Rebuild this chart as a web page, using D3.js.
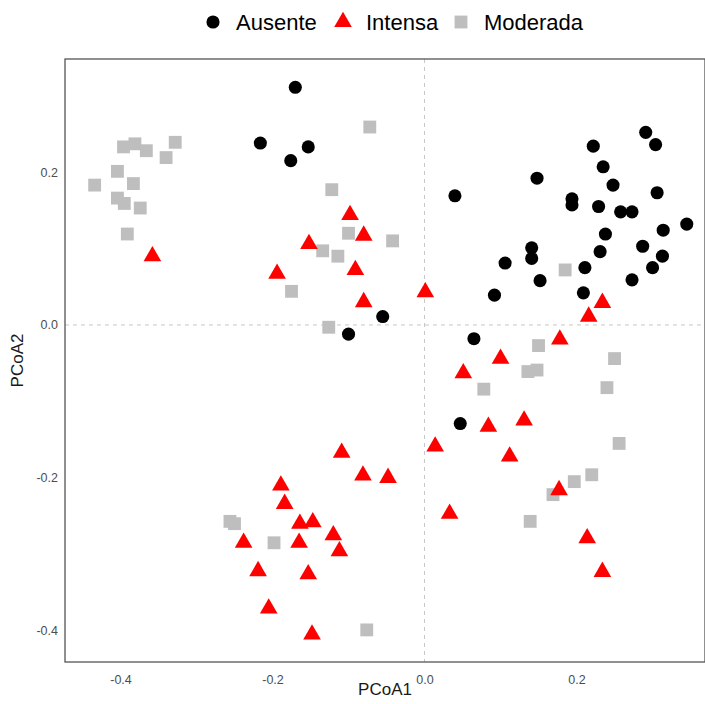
<!DOCTYPE html>
<html>
<head>
<meta charset="utf-8">
<script src="https://cdn.jsdelivr.net/npm/d3@7"></script>
<style>
  body { margin: 0; background: #fff; }
  svg { display: block; font-family: "Liberation Sans", Arial, sans-serif; }
</style>
</head>
<body>
<div id="chart"></div>
<script>
// PCoA scores
var ausenteX = [-0.170,-0.216,-0.153,-0.176,-0.055,-0.100,0.291,0.304,0.222,0.235,0.148,0.248,0.306,0.040,0.194,0.194,0.229,0.258,0.273,0.345,0.314,0.238,0.287,0.231,0.141,0.141,0.313,0.106,0.211,0.300,0.152,0.273,0.092,0.209,0.065,0.047];
var ausenteY = [0.311,0.238,0.233,0.215,0.011,-0.012,0.252,0.236,0.234,0.207,0.192,0.183,0.173,0.169,0.165,0.157,0.155,0.148,0.148,0.132,0.124,0.119,0.103,0.096,0.101,0.087,0.090,0.081,0.075,0.075,0.058,0.059,0.039,0.042,-0.018,-0.129];

var intensaX = [-0.358,-0.098,-0.080,-0.152,-0.194,-0.091,-0.080,0.001,0.234,0.216,0.178,0.100,0.051,0.131,0.084,0.014,0.112,-0.048,0.177,0.033,0.214,0.234,-0.109,-0.081,-0.189,-0.184,-0.164,-0.147,-0.120,-0.238,-0.165,-0.112,-0.219,-0.153,-0.205,-0.148];
var intensaY = [0.090,0.144,0.117,0.106,0.067,0.072,0.030,0.043,0.029,0.011,-0.019,-0.044,-0.063,-0.125,-0.133,-0.159,-0.172,-0.200,-0.216,-0.247,-0.279,-0.323,-0.167,-0.197,-0.210,-0.234,-0.260,-0.258,-0.275,-0.285,-0.285,-0.296,-0.322,-0.326,-0.371,-0.405];

var moderadaX = [-0.072,-0.396,-0.381,-0.366,-0.328,-0.340,-0.404,-0.434,-0.383,-0.404,-0.395,-0.374,-0.391,-0.122,-0.100,-0.042,-0.134,-0.114,-0.175,-0.126,0.185,0.150,0.250,0.136,0.148,0.078,0.240,0.256,0.220,0.197,0.169,0.139,-0.256,-0.250,-0.198,-0.076];
var moderadaY = [0.259,0.233,0.237,0.228,0.239,0.219,0.201,0.183,0.185,0.166,0.159,0.153,0.119,0.177,0.120,0.110,0.097,0.090,0.044,-0.003,0.072,-0.027,-0.044,-0.061,-0.059,-0.084,-0.082,-0.155,-0.196,-0.205,-0.222,-0.257,-0.257,-0.260,-0.285,-0.399];

var groups = ["Ausente", "Intensa", "Moderada"];
var xTicks = [-0.4, -0.2, 0.0, 0.2];
var yTicks = [-0.4, -0.2, 0.0, 0.2];

var W = 705, H = 704;
var margin = {top: 59, right: 0, bottom: 42, left: 65};
var width = W - margin.left - margin.right,
    height = H - margin.top - margin.bottom;

var svg = d3.select("#chart").append("svg")
    .attr("width", W)
    .attr("height", H);

var x = d3.scaleLinear().domain([-0.473, 0.369]).range([0, width]);
var y = d3.scaleLinear().domain([-0.441, 0.348]).range([height, 0]);

var colour = d3.scaleOrdinal().domain(groups).range(["#000000", "#ff0000", "#bebebe"]);
var shape = d3.scaleOrdinal().domain(groups).range([d3.symbolCircle, d3.symbolTriangle, d3.symbolSquare]);
var size = d3.scaleOrdinal().domain(groups).range([135, 135, 165]);

// ggplot-style labels use a plain hyphen for negatives
var fmt = function(d) { return d3.format(".1f")(d).replace("\u2212", "-"); };

var g = svg.append("g")
    .attr("transform", "translate(" + margin.left + "," + margin.top + ")");

// dashed reference lines at 0
g.append("line")
    .attr("x1", x(0)).attr("x2", x(0))
    .attr("y1", 0).attr("y2", height)
    .attr("stroke", "#c8c8c8").attr("stroke-dasharray", "4,4");
g.append("line")
    .attr("x1", 0).attr("x2", width)
    .attr("y1", y(0)).attr("y2", y(0))
    .attr("stroke", "#c8c8c8").attr("stroke-dasharray", "4,4");

// points
function rows(name, xs, ys) {
  return xs.map(function(v, i) { return {group: name, x: v, y: ys[i]}; });
}
var data = [].concat(
  rows("Moderada", moderadaX, moderadaY),
  rows("Ausente", ausenteX, ausenteY),
  rows("Intensa", intensaX, intensaY)
);

g.selectAll("path.pt").data(data).enter().append("path")
    .attr("class", "pt")
    .attr("transform", function(d) { return "translate(" + x(d.x) + "," + y(d.y) + ")"; })
    .attr("d", function(d) { return d3.symbol().type(shape(d.group)).size(size(d.group))(); })
    .attr("fill", function(d) { return colour(d.group); });

// panel border
g.append("rect")
    .attr("width", width).attr("height", height)
    .attr("fill", "none").attr("stroke", "#555").attr("stroke-width", 1.3);

// axes (labels only)
var xAxis = d3.axisBottom(x).tickValues(xTicks).tickFormat(fmt).tickSize(0).tickPadding(13);
var yAxis = d3.axisLeft(y).tickValues(yTicks).tickFormat(fmt).tickSize(0).tickPadding(7);

var gx = g.append("g").attr("transform", "translate(0," + height + ")").call(xAxis);
var gy = g.append("g").call(yAxis);
[gx, gy].forEach(function(a) {
  a.select(".domain").remove();
  a.selectAll("text").attr("fill", "#4d4d4d").style("font-size", "12.5px")
    .style("font-family", "'Liberation Sans', Arial, sans-serif");
});

svg.append("text")
    .attr("x", margin.left + width / 2).attr("y", 695)
    .attr("text-anchor", "middle").attr("fill", "#1a1a1a")
    .style("font-size", "17px").text("PCoA1");
svg.append("text")
    .attr("transform", "translate(23," + (margin.top + height / 2) + ") rotate(-90)")
    .attr("text-anchor", "middle").attr("fill", "#1a1a1a")
    .style("font-size", "17px").text("PCoA2");

// legend
var legend = svg.append("g").attr("transform", "translate(0,22)");
var keyX = [213, 343, 461];
groups.forEach(function(name, i) {
  legend.append("path")
      .attr("transform", "translate(" + keyX[i] + ",0)")
      .attr("d", d3.symbol().type(shape(name)).size(size(name))())
      .attr("fill", colour(name));
  legend.append("text")
      .attr("x", keyX[i] + 23).attr("y", 0).attr("dy", "0.35em")
      .attr("fill", "#000").style("font-size", "22px")
      .text(name);
});
</script>
</body>
</html>
